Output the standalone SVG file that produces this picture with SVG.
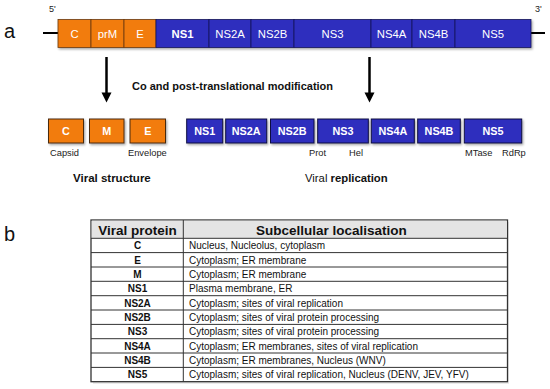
<svg xmlns="http://www.w3.org/2000/svg" width="550" height="389" viewBox="0 0 550 389">
<style>
text{font-family:"Liberation Sans",Arial,sans-serif;}
.or{fill:#F27B0C;stroke:#6a3a10;stroke-width:0.8;}
.bl{fill:#2E2EBE;stroke:#15155a;stroke-width:0.8;}
.bx{fill:#F27B0C;stroke:#4a2a10;stroke-width:1;filter:url(#sh);}
.bb{fill:#2E2EBE;stroke:#101040;stroke-width:1;filter:url(#sh);}
.wt{fill:#fff;font-size:11.3px;text-anchor:middle;}
.wb{fill:#fff;font-size:10.8px;font-weight:bold;text-anchor:middle;}
.sm{fill:#222;font-size:9.3px;}
.lb{fill:#111;font-size:11px;font-weight:bold;}
.big{fill:#111;font-size:20px;}
.tc{font-size:10px;fill:#111;}
.tb{font-size:10px;fill:#111;font-weight:bold;text-anchor:middle;}
.th{font-size:13.5px;fill:#111;font-weight:bold;}
.rl{stroke:#333;stroke-width:1;}
</style>
<defs>
<filter id="sh" x="-10%" y="-10%" width="130%" height="140%">
<feDropShadow dx="1.2" dy="1.5" stdDeviation="0.8" flood-color="#000" flood-opacity="0.35"/>
</filter>
<path id="head" d="M-5,0 L5,0 L0,10 Z" fill="#000"/>
</defs>
<rect width="550" height="389" fill="#fff"/>

<text class="big" x="4" y="38">a</text>
<text class="big" x="4" y="241">b</text>

<g id="genome">
<line x1="43" y1="33" x2="58" y2="33" stroke="#000" stroke-width="2"/>
<line x1="531" y1="33" x2="545" y2="33" stroke="#000" stroke-width="2"/>
<text x="49" y="12" font-size="9" fill="#222">5'</text>
<text x="535" y="12" font-size="9" fill="#222">3'</text>
<g filter="url(#sh)">
<rect class="or" x="58" y="19.5" width="33" height="28"/>
<rect class="or" x="91" y="19.5" width="33" height="28"/>
<rect class="or" x="124" y="19.5" width="32" height="28"/>
<rect class="bl" x="156" y="19.5" width="53" height="28"/>
<rect class="bl" x="209" y="19.5" width="42" height="28"/>
<rect class="bl" x="251" y="19.5" width="43" height="28"/>
<rect class="bl" x="294" y="19.5" width="77" height="28"/>
<rect class="bl" x="371" y="19.5" width="41" height="28"/>
<rect class="bl" x="412" y="19.5" width="43" height="28"/>
<rect class="bl" x="455" y="19.5" width="76" height="28"/>
</g>
<text class="wt" x="74.5" y="37.5">C</text>
<text class="wt" x="107.5" y="37.5">prM</text>
<text class="wt" x="140" y="37.5">E</text>
<text class="wb" x="182.5" y="37.5" style="font-size:11.3px">NS1</text>
<text class="wt" x="230" y="37.5">NS2A</text>
<text class="wt" x="272.5" y="37.5">NS2B</text>
<text class="wt" x="332.5" y="37.5">NS3</text>
<text class="wt" x="391.5" y="37.5">NS4A</text>
<text class="wt" x="433.5" y="37.5">NS4B</text>
<text class="wt" x="493" y="37.5">NS5</text>
</g>

<g id="connectors">
<line x1="106.5" y1="57" x2="106.5" y2="94" stroke="#000" stroke-width="2.5"/>
<use href="#head" x="106.5" y="92.5"/>
<line x1="369.5" y1="57" x2="369.5" y2="94" stroke="#000" stroke-width="2.5"/>
<use href="#head" x="369.5" y="92.5"/>
</g>
<text class="lb" x="132" y="90">Co and post-translational modification</text>

<g id="structural">
<rect class="bx" x="48.5" y="119" width="35" height="24"/>
<rect class="bx" x="89.5" y="119" width="34.5" height="24"/>
<rect class="bx" x="130" y="119" width="35.5" height="24"/>
<text class="wb" x="66" y="135">C</text>
<text class="wb" x="106.8" y="135">M</text>
<text class="wb" x="147.8" y="135">E</text>
<text class="sm" x="50" y="156">Capsid</text>
<text class="sm" x="128" y="156">Envelope</text>
<text class="lb" x="73" y="182" style="font-size:11.5px">Viral structure</text>
</g>

<g id="nonstructural">
<rect class="bb" x="186.7" y="119" width="36" height="24"/>
<rect class="bb" x="225.7" y="119" width="41" height="24"/>
<rect class="bb" x="270.5" y="119" width="43.5" height="24"/>
<rect class="bb" x="317.7" y="119" width="50.6" height="24"/>
<rect class="bb" x="371.3" y="119" width="43" height="24"/>
<rect class="bb" x="417.7" y="119" width="42.6" height="24"/>
<rect class="bb" x="464.3" y="119" width="57.4" height="24"/>
<text class="wb" x="204.7" y="135">NS1</text>
<text class="wb" x="246.2" y="135">NS2A</text>
<text class="wb" x="292.2" y="135">NS2B</text>
<text class="wb" x="343" y="135">NS3</text>
<text class="wb" x="392.8" y="135">NS4A</text>
<text class="wb" x="439" y="135">NS4B</text>
<text class="wb" x="493" y="135">NS5</text>
<text class="sm" x="309" y="156">Prot</text>
<text class="sm" x="349" y="156">Hel</text>
<text class="sm" x="465" y="156">MTase</text>
<text class="sm" x="502" y="156">RdRp</text>
<text x="305" y="182" font-size="11.3" fill="#111">Viral <tspan font-weight="bold">replication</tspan></text>
</g>

<g id="table">
<rect x="93" y="222" width="416" height="162" fill="#ddd" opacity="0.6"/>
<rect x="91" y="220" width="416.5" height="161.7" fill="#fff" stroke="#333" stroke-width="1.3"/>
<rect x="91.7" y="220.7" width="415" height="17.6" fill="#e4e4e4"/>
<line class="rl" x1="91" y1="238.3" x2="507.5" y2="238.3"/>
<line class="rl" x1="91" y1="252.6" x2="507.5" y2="252.6"/>
<line class="rl" x1="91" y1="267" x2="507.5" y2="267"/>
<line class="rl" x1="91" y1="281.3" x2="507.5" y2="281.3"/>
<line class="rl" x1="91" y1="295.7" x2="507.5" y2="295.7"/>
<line class="rl" x1="91" y1="310" x2="507.5" y2="310"/>
<line class="rl" x1="91" y1="324.4" x2="507.5" y2="324.4"/>
<line class="rl" x1="91" y1="338.7" x2="507.5" y2="338.7"/>
<line class="rl" x1="91" y1="353" x2="507.5" y2="353"/>
<line class="rl" x1="91" y1="367.4" x2="507.5" y2="367.4"/>
<line class="rl" x1="183.3" y1="220" x2="183.3" y2="381.7"/>
<text class="th" x="137.5" y="234.5" text-anchor="middle">Viral protein</text>
<text class="th" x="256" y="234.5">Subcellular localisation</text>
<text class="tb" x="137.5" y="249.3">C</text>
<text class="tb" x="137.5" y="263.6">E</text>
<text class="tb" x="137.5" y="278">M</text>
<text class="tb" x="137.5" y="292.3">NS1</text>
<text class="tb" x="137.5" y="306.7">NS2A</text>
<text class="tb" x="137.5" y="321">NS2B</text>
<text class="tb" x="137.5" y="335.3">NS3</text>
<text class="tb" x="137.5" y="349.7">NS4A</text>
<text class="tb" x="137.5" y="364">NS4B</text>
<text class="tb" x="137.5" y="378.3">NS5</text>
<text class="tc" x="189" y="249.3">Nucleus, Nucleolus, cytoplasm</text>
<text class="tc" x="189" y="263.6">Cytoplasm; ER membrane</text>
<text class="tc" x="189" y="278">Cytoplasm; ER membrane</text>
<text class="tc" x="189" y="292.3">Plasma membrane, ER</text>
<text class="tc" x="189" y="306.7">Cytoplasm; sites of viral replication</text>
<text class="tc" x="189" y="321">Cytoplasm; sites of viral protein processing</text>
<text class="tc" x="189" y="335.3">Cytoplasm; sites of viral protein processing</text>
<text class="tc" x="189" y="349.7">Cytoplasm; ER membranes, sites of viral replication</text>
<text class="tc" x="189" y="364">Cytoplasm; ER membranes, Nucleus (WNV)</text>
<text class="tc" x="189" y="378.3">Cytoplasm; sites of viral replication, Nucleus (DENV, JEV, YFV)</text>
</g>
</svg>
